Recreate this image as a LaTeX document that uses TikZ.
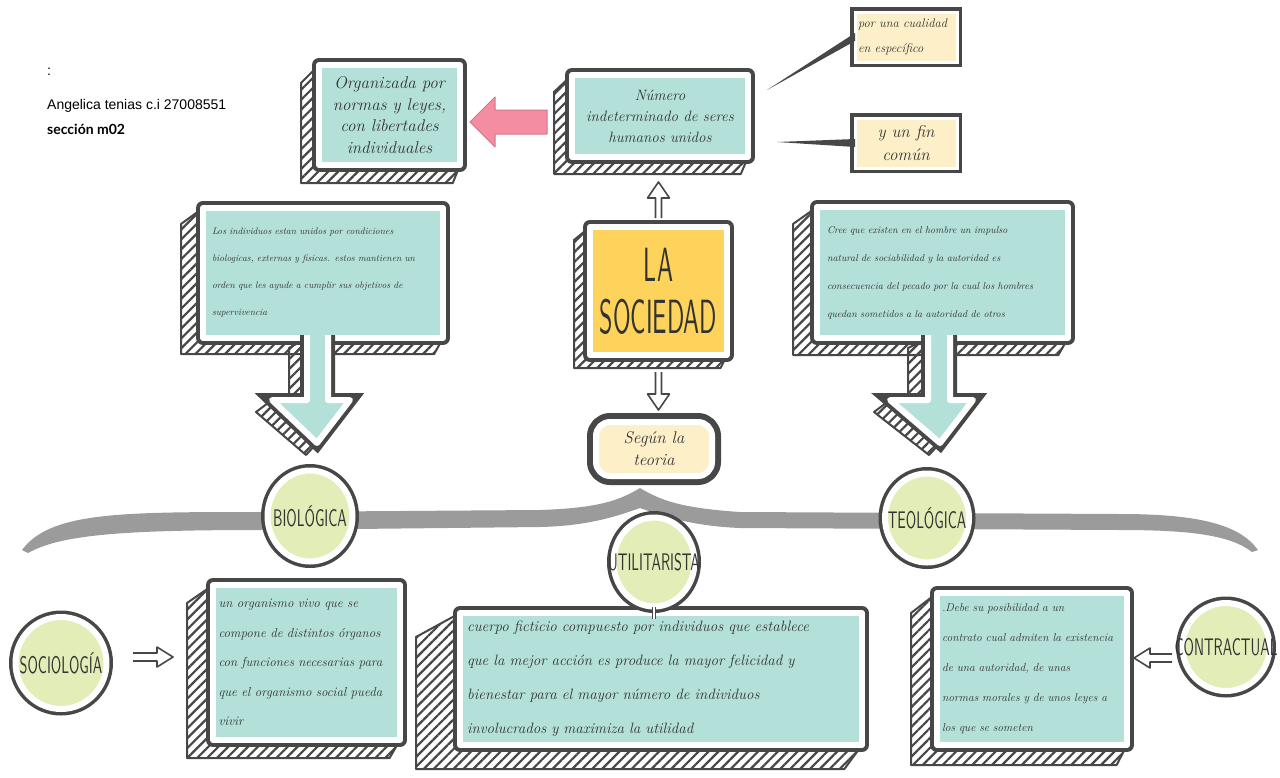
\documentclass[tikz,border=0pt]{standalone}
\usepackage{fontspec}
\usetikzlibrary{arrows.meta,patterns.meta,backgrounds,shapes.geometric}

\newfontfamily\headfont[FakeStretch=0.59]{lmsans10-regular.otf}
\newfontfamily\titlefont[FakeStretch=0.5]{lmsans10-regular.otf}
\newfontfamily\notefont{Liberation Sans}
\newfontfamily\labelfont{Lato}
\newcommand\hand[2]{\itshape\fontsize{#1}{#2}\selectfont}

\definecolor{ink}{HTML}{474747}
\definecolor{inktext}{HTML}{333333}
\definecolor{mint}{HTML}{B4E0DA}
\definecolor{sun}{HTML}{FDD35B}
\definecolor{cream}{HTML}{FDF0C8}
\definecolor{leaf}{HTML}{E3EDB8}
\definecolor{rose}{HTML}{F48CA2}
\definecolor{bracegray}{HTML}{9B9B9B}

% hatched side of a box, to the left and below
\newcommand\hatchside[3]{%
  \begin{scope}[on background layer]
    \draw[hatch] (#1.north west) -- ([shift={(-#2,#3)}]#1.north west)
      -- ([shift={(-#2,#3)}]#1.south west) -- ([shift={(-0.4*#2,#3)}]#1.south east)
      -- (#1.south east) -- cycle;
  \end{scope}}

\tikzset{
  sketch/.style={preaction={draw=ink, line width=#1}, draw=white, line width=6pt, line join=round},
  sketch/.default=14pt,
  box/.style={sketch, fill=mint, inner sep=0pt, outer sep=0pt, text=inktext},
  note/.style={preaction={draw=ink, line width=10pt}, draw=white, line width=3pt,
    fill=cream, inner sep=0pt, outer sep=0pt, text=inktext},
  theory/.style={ellipse, sketch=13pt, line width=6pt, fill=leaf, inner sep=0pt,
    outer sep=0pt, text=inktext, font=\headfont\fontsize{24}{24}\selectfont},
  hatch/.style={draw=ink, line width=2pt, line join=round,
    pattern={Lines[angle=45,distance=7pt,line width=2.2pt]}, pattern color=ink},
  hollow/.style={draw=ink, line width=1.6pt, fill=white, line join=round},
  pointer/.style={fill=ink},
  pinkarrow/.style={fill=rose, draw=rose!85!black, line width=1pt, line join=round},
  header/.style={anchor=base west, inner sep=0pt, text=black, font=\notefont\fontsize{14}{16}\selectfont}
}

\begin{document}
\begin{tikzpicture}[x=1pt, y=-1pt]
  \useasboundingbox (0,0) rectangle (1280,777);

  % the brace
  \fill[bracegray] (22,550) .. controls (50,512) and (120,512) .. (260,512) -- (540,510)
    .. controls (600,508) and (620,500) .. (640,488)
    .. controls (660,500) and (680,508) .. (740,512) -- (1120,514)
    .. controls (1200,514) and (1240,525) .. (1258,550)
    -- (1252,552) .. controls (1230,535) and (1190,530) .. (1120,530) -- (740,528)
    .. controls (690,526) and (660,515) .. (640,508)
    .. controls (620,515) and (590,526) .. (540,527) -- (260,530)
    .. controls (120,530) and (60,535) .. (28,553) -- cycle;

  \node[header] (colon) at (47,75) {:};
  \node[header] (author) at (47,109) {Angelica tenias c.i 27008551};
  \node[header, font=\labelfont\bfseries\fontsize{14}{16}\selectfont] (section) at (47,134) {sección m02};

  % top row
  \node[box, minimum width=141, minimum height=100, align=center, font=\hand{17}{21.5}]
    (organizada) at (389.5,115) {Organizada por\\normas y leyes,\\con libertades\\individuales};
  \node[box, minimum width=176, minimum height=82, align=center, font=\hand{15}{21}]
    (numero) at (660,116) {Número\\indeterminado de seres\\humanos unidos};
  \node[note, minimum width=102, minimum height=50, text width=96, inner xsep=3,
    align=left, font=\hand{12.5}{25}] (cualidad) at (906,37) {por una cualidad\\en específico};
  \node[note, minimum width=102, minimum height=50, align=center, font=\hand{17}{23}]
    (fin) at (906,143) {y un fin\\común};
  \coordinate (cualtip) at (767,90);
  \coordinate (fintip) at (777,142);

  \node[box, fill=sun, minimum width=137, minimum height=128, align=center,
    font=\titlefont\fontsize{48}{52}\selectfont] (sociedad) at (658.5,291) {LA\\SOCIEDAD};
  \node[box, fill=cream, rounded corners=14, sketch=18pt, minimum width=116, minimum height=54,
    align=center, font=\hand{17}{22}] (segun) at (654,449) {Según la\\teoria};

  \node[box, minimum width=240, minimum height=130, text width=222, inner xsep=9,
    align=left, font=\hand{9.5}{27}] (bio) at (323,273)
    {Los individuos estan unidos por condiciones\\biologicas, externas y fisicas. estos mantienen un\\orden que les ayude a cumplir sus objetivos de\\supervivencia};
  \node[box, minimum width=251, minimum height=131, text width=231, inner xsep=10,
    align=left, font=\hand{10}{28}] (teo) at (942.5,272.5)
    {Cree que existen en el hombre un impulso\\natural de sociabilidad y la autoridad es\\consecuencia del pecado por la cual los hombres\\quedan sometidos a la autoridad de otros};

  % bottom row
  \node[box, minimum width=187, minimum height=155, text width=176, inner xsep=5.5,
    align=left, font=\hand{13}{29.5}] (leftbox) at (306.5,662.5)
    {un organismo vivo que se\\compone de distintos órganos\\con funciones necesarias para\\que el organismo social pueda\\vivir};
  \node[box, minimum width=402, minimum height=132, text width=388, inner xsep=7,
    align=left, font=\hand{15}{34}] (midbox) at (661,679)
    {cuerpo ficticio compuesto por individuos que establece\\que la mejor acción es produce la mayor felicidad y\\bienestar para el mayor número de individuos\\involucrados y maximiza la utilidad};
  \node[box, minimum width=190, minimum height=152, text width=180, inner xsep=5,
    align=left, font=\hand{11.5}{30}] (rightbox) at (1032,669)
    {.Debe su posibilidad a un\\contrato cual admiten la existencia\\de una autoridad, de unas\\normas morales y de unos leyes a\\los que se someten};

  \hatchside{organizada}{18}{18}
  \hatchside{numero}{18}{17}
  \hatchside{sociedad}{16}{13}
  \hatchside{bio}{22}{16}
  \hatchside{teo}{24}{17}
  \hatchside{leftbox}{26}{18}
  \hatchside{midbox}{44}{24}
  \hatchside{rightbox}{26}{20}

  % arrow stems under the two callouts
  \begin{scope}[on background layer]
    \draw[hatch] ([shift={(-16,0)}]bio.south) -- ++(-18,10) -- ++(0,56) -- ++(18,0) -- cycle;
    \draw[hatch] ([shift={(-51,62)}]bio.south) -- ++(-16,12) -- ++(50,43) -- ++(11,-12) -- cycle;
    \draw[hatch] ([shift={(-14.5,0)}]teo.south) -- ++(-20,10) -- ++(0,56) -- ++(20,0) -- cycle;
    \draw[hatch] ([shift={(-52.5,62)}]teo.south) -- ++(-16,12) -- ++(55,43) -- ++(11,-12) -- cycle;
  \end{scope}
  \draw[sketch, fill=mint] ([shift={(-16,-3)}]bio.south) -- ++(0,65) -- ++(-35,0)
    -- ++(45,43) -- ++(33,-43) -- ++(-22,0) -- ++(0,-65);
  \draw[sketch, fill=mint] ([shift={(-14.5,-3)}]teo.south) -- ++(0,65) -- ++(-38,0)
    -- ++(50,43) -- ++(33,-43) -- ++(-23,0) -- ++(0,-65);

  % theories
  \node[theory, minimum width=85, minimum height=91] (biologica) at (310,516) {\makebox[0pt]{BIOLÓGICA}};
  \node[theory, minimum width=84, minimum height=89] (teologica) at (927,518) {\makebox[0pt]{TEOLÓGICA}};
  \node[theory, minimum width=81, minimum height=89] (utilitarista) at (654,562) {\makebox[0pt]{UTILITARISTA}};
  \node[theory, minimum width=91, minimum height=92] (sociologia) at (61,663) {\makebox[0pt]{SOCIOLOGÍA}};
  \node[theory, minimum width=87, minimum height=88] (contractual) at (1226,647) {\makebox[0pt]{CONTRACTUAL}};

  % connectors
  \draw[pinkarrow] ([shift={(-25,-6)}]numero.west) -- ++(-52,0) -- ++(0,-13) -- ++(-25,25)
    -- ++(25,25) -- ++(0,-13) -- ++(52,0) -- cycle;
  \fill[pointer] ([shift={(0,-4)}]cualidad.west) -- ([shift={(0,4)}]cualidad.west) -- (cualtip) -- cycle;
  \fill[pointer] ([shift={(0,-4)}]fin.west) -- ([shift={(0,4)}]fin.west) -- (fintip) -- cycle;
  \draw[hollow] ([shift={(-3,-9)}]sociedad.north) -- ++(0,-20) -- ++(-8,0) -- ++(11,-16)
    -- ++(11,16) -- ++(-8,0) -- ++(0,20);
  \draw[hollow] ([shift={(-3,17)}]sociedad.south) -- ++(0,22) -- ++(-8,0) -- ++(11,16)
    -- ++(11,-16) -- ++(-8,0) -- ++(0,-22);
  \draw[hollow] ([shift={(26.5,-10)}]sociologia.east) -- ++(24,0) -- ++(0,-6) -- ++(16,10)
    -- ++(-16,10) -- ++(0,-6) -- ++(-24,0);
  \draw[hollow] ([shift={(-10.5,7)}]contractual.west) -- ++(-22,0) -- ++(0,-6) -- ++(-16,10)
    -- ++(16,10) -- ++(0,-6) -- ++(22,0);
  \draw[draw=ink, line width=1pt, double=white, double distance=2pt]
    (utilitarista.south) -- ([shift={(0,6)}]utilitarista.south |- midbox.north);
\end{tikzpicture}
\end{document}
